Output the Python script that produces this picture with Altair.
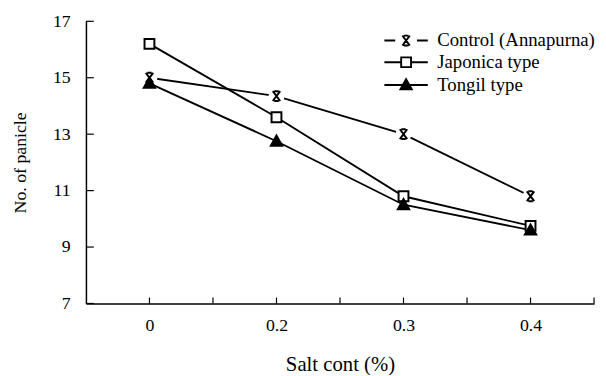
import altair as alt
import pandas as pd

# ---- data ----
salt = ["0", "0.2", "0.3", "0.4"]
series = ["Control (Annapurna)", "Japonica type", "Tongil type"]
control = [15.0, 14.35, 13.0, 10.8]
japonica = [16.2, 13.6, 10.8, 9.75]
tongil = [14.8, 12.75, 10.5, 9.6]
y_ticks = [7, 9, 11, 13, 15, 17]
x_ticks = [0, 0.5, 1, 1.5, 2, 2.5, 3, 3.5]

values = {series[0]: control, series[1]: japonica, series[2]: tongil}
rows = []
for s in series:
    for i, lab in enumerate(salt):
        rows.append({"series": s, "idx": i, "salt": lab, "value": values[s][i]})
df = pd.DataFrame(rows)

W, H = 515, 286
FONT = "Liberation Serif"

# marker shapes (unit box -1..1)
m_cross = "M-0.75,-1L0.75,1M0.75,-1L-0.75,1M-0.45,-1L0.45,-1M-0.45,1L0.45,1"
m_square = "M-1,-1L1,-1L1,1L-1,1Z"
m_tri = "M0,-1.15L1.15,0.9L-1.15,0.9Z"
# legend shapes: marker with line segments
l_cross = "M-4.4,0L-2.2,0M2.2,0L4.4,0" + m_cross
l_square = "M-4.4,0L-1,0M1,0L4.4,0" + m_square
l_tri = "M-4.4,0L4.4,0" + m_tri

label_expr = "datum.value % 1 == 0 ? " + str(salt) + "[datum.value] : ''"

xenc = alt.X(
    "idx:Q",
    scale=alt.Scale(domain=[-0.5, 3.5], nice=False, zero=False),
    axis=alt.Axis(
        values=x_ticks, labelExpr=label_expr, ticks=False, grid=False,
        title="Salt cont (%)", labelOverlap=False, labelPadding=13,
        titlePadding=20, labelFlush=False, titleFontSize=21,
    ),
)
yenc = alt.Y(
    "value:Q",
    scale=alt.Scale(domain=[7, 17], nice=False, zero=False),
    axis=alt.Axis(
        values=y_ticks, ticks=False, grid=False, title="No. of panicle",
        labelPadding=16, titlePadding=23, titleFontSize=18,
    ),
)

base = alt.Chart(df)

lines = base.mark_line(color="black", strokeWidth=1.9).encode(
    x=xenc, y=yenc, detail="series:N"
)

halo = base.transform_filter(alt.datum.series == series[0]).mark_point(
    shape="circle", filled=True, color="white", opacity=1, size=260
).encode(x="idx:Q", y="value:Q")

fill_range = ["transparent", "white", "black"]

points = base.mark_point(stroke="black", strokeWidth=2, opacity=1, size=100).encode(
    x="idx:Q",
    y="value:Q",
    shape=alt.Shape("series:N", scale=alt.Scale(domain=series, range=[m_cross, m_square, m_tri]), legend=None),
    fill=alt.Fill("series:N", scale=alt.Scale(domain=series, range=fill_range), legend=None),
)

leg = alt.Legend(
    title=None, orient="none", legendX=293, legendY=10,
    labelFont=FONT, labelFontSize=19, labelColor="black",
    symbolOpacity=1, symbolStrokeColor="black", symbolStrokeWidth=1.9,
    symbolSize=100, symbolOffset=22, labelOffset=22, rowPadding=2,
)

legend_layer = base.transform_filter(alt.datum.value < 0).mark_point(
    strokeWidth=1.9, opacity=1, size=100
).encode(
    x="idx:Q",
    y="value:Q",
    shape=alt.Shape("series:N", scale=alt.Scale(domain=series, range=[l_cross, l_square, l_tri]), legend=leg),
    fill=alt.Fill("series:N", scale=alt.Scale(domain=series, range=fill_range), legend=leg),
    stroke=alt.Stroke("series:N", scale=alt.Scale(domain=series, range=["black", "black", "black"]), legend=leg),
)

ytick_df = pd.DataFrame({"value": y_ticks})
ytick_rules = alt.Chart(ytick_df).mark_rule(color="black", strokeWidth=1.2).encode(
    y="value:Q", x=alt.value(0), x2=alt.value(8)
)
xtick_df = pd.DataFrame({"idx": x_ticks})
xtick_rules = alt.Chart(xtick_df).mark_rule(color="black", strokeWidth=1.2).encode(
    x="idx:Q", y=alt.value(H), y2=alt.value(H - 6)
)

chart = (
    alt.layer(lines, halo, points, legend_layer, ytick_rules, xtick_rules)
    .resolve_scale(shape="independent", fill="independent", stroke="independent")
    .properties(
        width=W, height=H,
        autosize=alt.AutoSizeParams(type="none"),
        padding={"left": 79, "top": 11, "right": 4, "bottom": 70},
        background="white",
    )
    .configure_view(stroke=None)
    .configure_axis(
        domainColor="black", domainWidth=1.5, labelFont=FONT, titleFont=FONT,
        labelFontSize=18, labelColor="black", titleColor="black",
        titleFontWeight="normal",
    )
)

chart.save("out.html", embed_options={"renderer": "svg", "actions": False})
